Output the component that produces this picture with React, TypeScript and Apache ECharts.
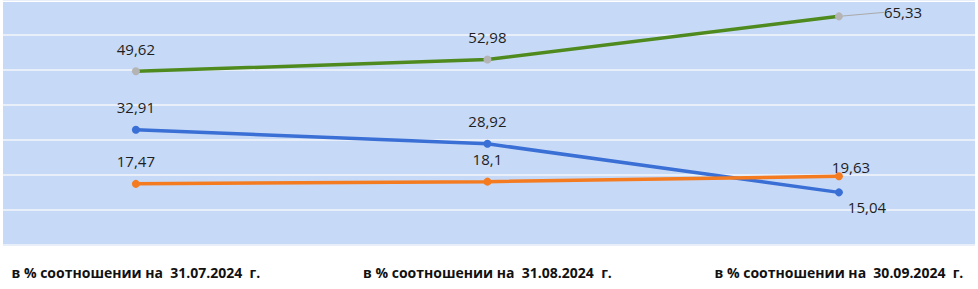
import React, { useEffect, useRef } from "react";
import * as echarts from "echarts";

const categories = [
  "в % соотношении на  31.07.2024  г.",
  "в % соотношении на  31.08.2024  г.",
  "в % соотношении на  30.09.2024  г.",
];
const greenValues = [49.62, 52.98, 65.33];
const blueValues = [32.91, 28.92, 15.04];
const orangeValues = [17.47, 18.1, 19.63];

const fmt = (v: number) => String(v).replace(".", ",");
const LABEL_FONT = "'Open Sans', 'Noto Sans', sans-serif";

export default function App() {
  const ref = useRef<HTMLDivElement>(null);
  useEffect(() => {
    if (!ref.current) return;
    const chart = echarts.init(ref.current, undefined, { renderer: "svg" });
    const labelStyle = {
      show: true,
      position: "top" as const,
      distance: 11,
      fontFamily: LABEL_FONT,
      fontSize: 15,
      color: "#1e1e1e",
      formatter: (p: any) => fmt(p.value[1]),
    };
    const mk = (vals: number[], overrides: Record<number, any>) =>
      vals.map((v, i) => (overrides[i] ? { value: [i, v], ...overrides[i] } : { value: [i, v] }));

    chart.setOption({
      animation: false,
      backgroundColor: "#ffffff",
      graphic: [
        {
          type: "rect",
          z: -100,
          silent: true,
          shape: { x: 3, y: 2, width: 972, height: 243 },
          style: { fill: "#c6d9f6" },
        },
      ],
      grid: { left: 3, right: 3, top: -3, bottom: 44, containLabel: false },
      xAxis: {
        type: "value",
        min: -0.378,
        max: 2.387,
        axisLine: { show: false },
        axisTick: { show: false },
        splitLine: { show: false },
        axisLabel: {
          customValues: [0, 1, 2],
          formatter: (v: number) => categories[Math.round(v)] ?? "",
          margin: 20,
          fontFamily: LABEL_FONT,
          fontWeight: "bold",
          fontSize: 14,
          color: "#111",
        },
      },
      yAxis: {
        type: "value",
        min: 0,
        max: 70,
        interval: 10,
        axisLine: { show: false },
        axisTick: { show: false },
        axisLabel: { show: false },
        splitLine: { show: true, lineStyle: { color: "#e8eff9", width: 2 } },
      },
      series: [
        {
          type: "line",
          data: mk(greenValues, {
            2: {
              label: { position: "right", distance: 6, offset: [0, 0] },
              labelLine: { show: true, length2: 0, lineStyle: { color: "#a9a9a9", width: 1 } },
            },
          }),
          lineStyle: { color: "#4f8a1f", width: 3.5 },
          itemStyle: { color: "#b4b4b4" },
          symbol: "circle",
          symbolSize: 8,
          label: labelStyle,
          labelLayout: (p: any) => (p.dataIndex === 2 ? { dx: 35, dy: -4 } : {}),
          labelLine: { show: false },
          z: 3,
        },
        {
          type: "line",
          data: mk(blueValues, {
            2: { label: { position: "bottom", distance: 3, offset: [28, 0] } },
          }),
          lineStyle: { color: "#3a6fd6", width: 3.5 },
          itemStyle: { color: "#3a6fd6" },
          symbol: "circle",
          symbolSize: 8,
          label: labelStyle,
          z: 3,
        },
        {
          type: "line",
          data: mk(orangeValues, {
            2: { label: { position: "top", distance: 0, offset: [12, 2] } },
          }),
          lineStyle: { color: "#f47b20", width: 3.5 },
          itemStyle: { color: "#f47b20" },
          symbol: "circle",
          symbolSize: 8,
          label: labelStyle,
          z: 3,
        },
      ],
    });
    return () => chart.dispose();
  }, []);
  return (
    <div
      ref={ref}
      style={{ position: "fixed", left: 0, top: 0, width: 978, height: 289 }}
    />
  );
}
